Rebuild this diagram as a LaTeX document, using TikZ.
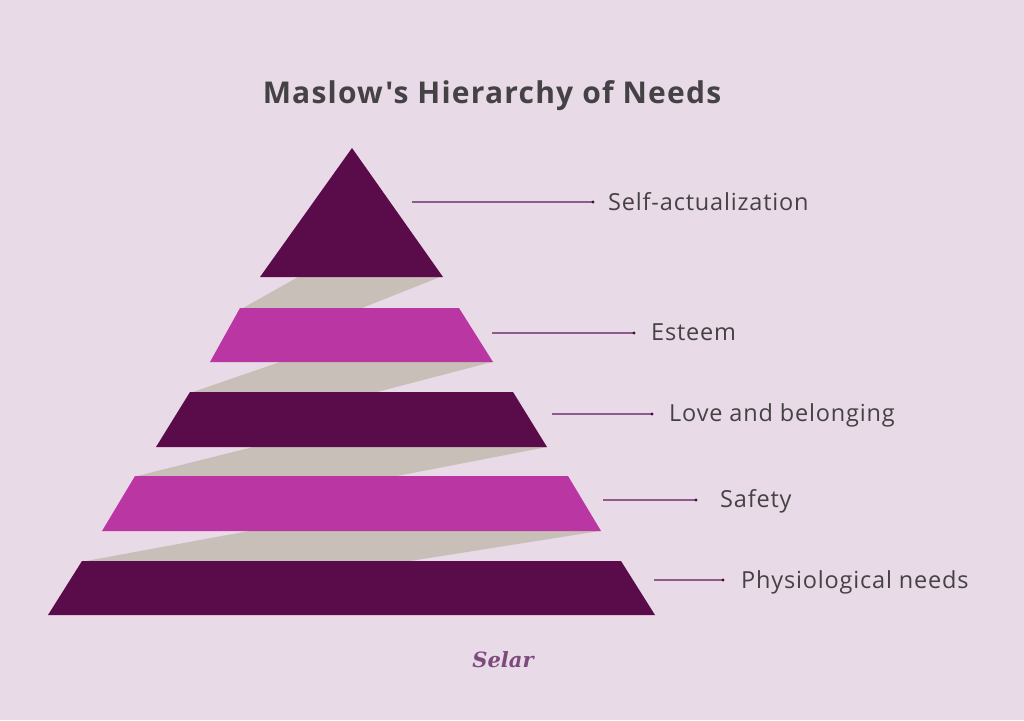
\documentclass[tikz,border=0pt]{standalone}
\usepackage{fontspec}
\setmainfont{Open Sans}
\newfontfamily\titlefont[LetterSpace=4]{Open Sans}
\newfontfamily\lblfont[LetterSpace=3.5]{Open Sans}
\newfontfamily\logofont{DejaVu Serif}
\definecolor{bg}{HTML}{E8DAE6}
\definecolor{darkp}{HTML}{5A0C4A}
\definecolor{magp}{HTML}{BA36A3}
\definecolor{band}{HTML}{C8C0B8}
\definecolor{txt}{HTML}{454245}
\definecolor{linec}{HTML}{8E5C8C}
\definecolor{logoc}{HTML}{7E4A7E}
\tikzset{
  tierdark/.style={fill=darkp},
  tiermag/.style={fill=magp},
  bandfill/.style={fill=band},
  lbl/.style={anchor=base west, inner sep=0pt, text=txt, font=\lblfont\fontsize{23.5}{26}\selectfont},
  conn/.style={draw=linec, line width=1.1pt},
  dotend/.style={fill=darkp!80!black},
}
\begin{document}
\begin{tikzpicture}[x=1pt,y=-1pt]
\fill[bg] (0,0) rectangle (1024,720);
\useasboundingbox (0,0) rectangle (1024,720);
% title
\node[anchor=base, inner sep=0pt, text=txt, font=\titlefont\bfseries\fontsize{30}{34}\selectfont] (title) at (492,103) {Maslow's Hierarchy of Needs};
% connecting bands
\fill[bandfill] (243,308) -- (362,308) -- (440,277) -- (298,277) -- cycle;
\fill[bandfill] (193,392) -- (377,392) -- (492,362) -- (280,362) -- cycle;
\fill[bandfill] (137,476) -- (397,476) -- (547,447) -- (253,447) -- cycle;
\fill[bandfill] (86,561) -- (410,561) -- (600,531) -- (249,531) -- cycle;
% tiers
\fill[tierdark] (352,148) -- (443,277) -- (260,277) -- cycle;
\fill[tiermag] (240,308) -- (459,308) -- (493,362) -- (210,362) -- cycle;
\fill[tierdark] (190,392) -- (513,392) -- (547,447) -- (156,447) -- cycle;
\fill[tiermag] (135,476) -- (568,476) -- (601,531) -- (102,531) -- cycle;
\fill[tierdark] (82,561) -- (621,561) -- (655,615) -- (48,615) -- cycle;
% labels
\node[lbl] (l1) at (608,210.5) {Self-actualization};
\node[lbl] (l2) at (651,340.5) {Esteem};
\node[lbl] (l3) at (669,421.5) {Love and belonging};
\node[lbl] (l4) at (720,507.5) {Safety};
\node[lbl] (l5) at (741,588.5) {Physiological needs};
\coordinate (s1) at (412,202);
\coordinate (e1) at (593,202);
\coordinate (s2) at (492,333);
\coordinate (e2) at (634,333);
\coordinate (s3) at (552,414);
\coordinate (e3) at (652,414);
\coordinate (s4) at (603,500);
\coordinate (e4) at (696,500);
\coordinate (s5) at (654,580);
\coordinate (e5) at (723,580);
\foreach \i in {1,...,5}{
  \draw[conn] (s\i) -- (e\i);
  \fill[dotend] (e\i) circle (1.6pt);
}
% logo
\node[inner sep=0pt, text=logoc, font=\logofont\bfseries\itshape\fontsize{21}{24}\selectfont] (logo) at (503,660) {Selar};
\end{tikzpicture}
\end{document}
